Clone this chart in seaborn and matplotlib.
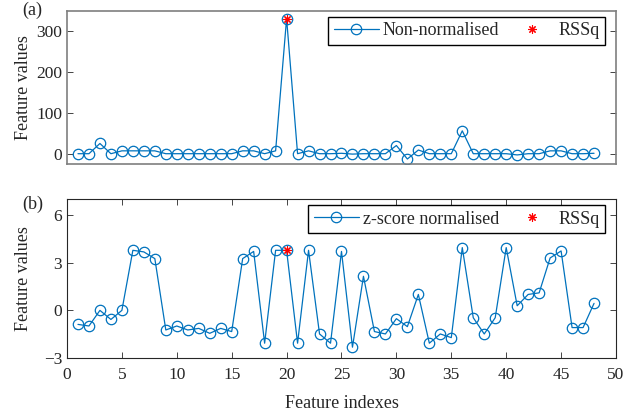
import numpy as np
import matplotlib
matplotlib.use("Agg")
import matplotlib.pyplot as plt
import seaborn as sns

# feature indexes 1..48
feature_idx = list(range(1, 49))

raw_values = [0, 0, 25, 0, 7, 7, 7, 7, 0, 0, 0, 0, 0, 0, 0, 7,
              7, 0, 7, 331, 0, 7, 0, 0, 1, -1, 0, 0, 0, 20, -13, 9,
              0, 0, 0, 56, 0, 0, 0, 0, -3, 0, 0, 7, 7, 0, 0, 1]

zscore_values = [-0.88, -0.98, 0.0, -0.57, 0.0, 3.77, 3.67, 3.25, -1.23, -0.98, -1.23, -1.13,
                 -1.44, -1.13, -1.33, 3.25, 3.7, -2.06, 3.77, 3.77, -2.06, 3.77, -1.48, -2.06,
                 3.7, -2.31, 2.14, -1.33, -1.48, -0.52, -1.02, 1.0, -2.06, -1.48, -1.71, 3.94,
                 -0.46, -1.48, -0.46, 3.94, 0.29, 1.0, 1.1, 3.29, 3.73, -1.08, -1.08, 0.44]

rssq_idx = 20
blue = "#0072BD"

sns.set_theme(style="ticks")
plt.rcParams["font.family"] = ["Liberation Serif", "DejaVu Serif"]
plt.rcParams["font.size"] = 12

fig = plt.figure(figsize=(6.41, 4.16), dpi=100)
ax_a = fig.add_axes([0.1045, 0.606, 0.8565, 0.368])
ax_b = fig.add_axes([0.1045, 0.139, 0.8565, 0.383])

panels = [
    (ax_a, raw_values, "Non-normalised", (-25, 350), [0, 100, 200, 300]),
    (ax_b, zscore_values, "z-score normalised", (-3, 7), [-3, 0, 3, 6]),
]

for ax, vals, name, ylim, yticks in panels:
    sns.lineplot(x=feature_idx, y=vals, ax=ax, color=blue, lw=0.9,
                 marker="o", markersize=7.5, markerfacecolor="none",
                 markeredgecolor=blue, markeredgewidth=0.9, label=name)
    # the RSSq-selected feature
    sns.lineplot(x=[rssq_idx], y=[vals[rssq_idx - 1]], ax=ax, color="red",
                 linestyle="", marker=(8, 2, 0), markersize=6,
                 markeredgecolor="red", markeredgewidth=0.8, label="RSSq",
                 zorder=5)
    ax.set_xlim(0, 50)
    ax.set_ylim(*ylim)
    ax.set_yticks(yticks)
    ax.set_ylabel("Feature values", fontsize=13)
    ax.tick_params(direction="in", length=4, width=0.6, colors="#262626",
                   labelsize=12.5, right=True)
    ax.tick_params(axis="x", pad=6)
    for s in ax.spines.values():
        s.set_visible(True)
        s.set_color("#262626")
        s.set_linewidth(0.8)
    ax.legend(loc="upper right", bbox_to_anchor=(0.98, 0.96), ncol=2,
              borderaxespad=0, fancybox=False, framealpha=1,
              edgecolor="black", fontsize=13, handlelength=2.5,
              columnspacing=0.6, borderpad=0.3, handletextpad=0.2)

ax_a.set_xticks([])
ax_a.spines[:].set_color("#7f7f7f")
ax_a.spines[:].set_linewidth(1.2)
ax_b.set_xticks(range(0, 51, 5))
ax_b.tick_params(axis="x", top=True)
ax_b.set_xlabel("Feature indexes", fontsize=13, labelpad=9)

fig.text(0.035, 0.975, "(a)", fontsize=13, va="center")
fig.text(0.035, 0.508, "(b)", fontsize=13, va="center")
ax_a.yaxis.set_label_coords(-0.063, 0.5)
ax_b.yaxis.set_label_coords(-0.063, 0.5)

fig.savefig("out.png", dpi=100)
